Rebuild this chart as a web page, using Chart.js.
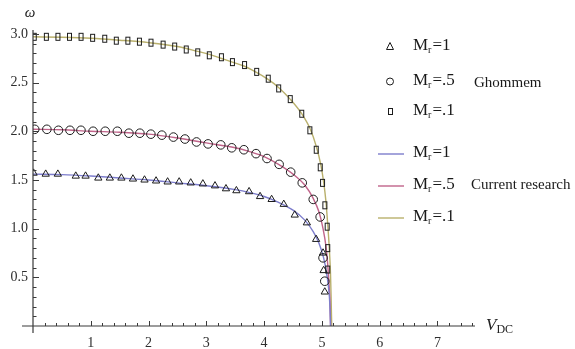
<!DOCTYPE html>
<html lang="en">
<head>
  <meta charset="UTF-8" />
  <title>Frequency vs V_DC</title>
  <script src="https://cdn.jsdelivr.net/npm/chart.js"></script>
  <style>
    * { margin: 0; padding: 0; box-sizing: border-box; }
    body { background: #fff; width: 575px; height: 349px; overflow: hidden; }
    #wrap { position: relative; width: 575px; height: 349px; }
  </style>
</head>
<body>
<div id="wrap"><canvas id="chart" width="575" height="349"></canvas></div>

<script>
  // Ghommem (markers)
  const vTri = [0.01, 0.22, 0.43, 0.74, 0.91, 1.13, 1.33, 1.53, 1.73, 1.93, 2.13, 2.33, 2.53, 2.73, 2.94, 3.15, 3.34, 3.52, 3.74, 3.93, 4.13, 4.34, 4.53, 4.74, 4.90, 5.02, 5.03, 5.05];
  const wTri = [1.57, 1.56, 1.56, 1.54, 1.54, 1.52, 1.52, 1.52, 1.51, 1.50, 1.49, 1.48, 1.48, 1.47, 1.46, 1.44, 1.41, 1.39, 1.38, 1.33, 1.30, 1.25, 1.14, 1.06, 0.89, 0.75, 0.57, 0.35];

  const vCirc = [0.03, 0.24, 0.44, 0.64, 0.83, 1.04, 1.25, 1.46, 1.66, 1.85, 2.04, 2.23, 2.43, 2.63, 2.83, 3.03, 3.25, 3.44, 3.65, 3.86, 4.05, 4.26, 4.46, 4.66, 4.85, 4.97, 5.02, 5.05];
  const wCirc = [2.02, 2.02, 2.01, 2.01, 2.01, 2.00, 2.00, 2.00, 1.98, 1.98, 1.97, 1.96, 1.94, 1.92, 1.89, 1.87, 1.86, 1.83, 1.81, 1.77, 1.72, 1.66, 1.58, 1.47, 1.30, 1.12, 0.70, 0.46];

  const vSq = [0.03, 0.24, 0.44, 0.64, 0.84, 1.04, 1.25, 1.45, 1.65, 1.85, 2.05, 2.26, 2.46, 2.66, 2.86, 3.06, 3.27, 3.46, 3.67, 3.88, 4.08, 4.26, 4.46, 4.66, 4.80, 4.91, 4.98, 5.02, 5.06, 5.10, 5.11, 5.11];
  const wSq = [2.97, 2.97, 2.97, 2.97, 2.97, 2.96, 2.95, 2.93, 2.93, 2.92, 2.91, 2.89, 2.87, 2.84, 2.81, 2.78, 2.76, 2.71, 2.68, 2.61, 2.54, 2.44, 2.33, 2.18, 2.01, 1.81, 1.63, 1.47, 1.24, 1.02, 0.80, 0.58];

  // Current research (lines)
  const vLine1 = [0, 0.5, 1, 1.5, 2, 2.5, 3, 3.5, 3.75, 4, 4.25, 4.5, 4.7, 4.85, 4.95, 5.03, 5.08, 5.11, 5.13, 5.14, 5.15];
  const wLine1 = [1.56, 1.555, 1.54, 1.52, 1.50, 1.47, 1.44, 1.40, 1.37, 1.33, 1.27, 1.19, 1.09, 0.97, 0.85, 0.70, 0.55, 0.42, 0.30, 0.18, 0];

  const vLine5 = [0, 0.5, 1, 1.5, 2, 2.5, 3, 3.5, 3.75, 4, 4.25, 4.5, 4.7, 4.85, 4.95, 5.02, 5.07, 5.10, 5.12, 5.14, 5.15];
  const wLine5 = [2.02, 2.015, 2.00, 1.99, 1.97, 1.93, 1.88, 1.83, 1.79, 1.74, 1.66, 1.56, 1.45, 1.31, 1.17, 1.00, 0.82, 0.64, 0.46, 0.25, 0];

  const vLine01 = [0, 0.5, 1, 1.5, 2, 2.5, 2.85, 3.05, 3.25, 3.45, 3.65, 3.85, 4.05, 4.25, 4.45, 4.65, 4.8, 4.9, 4.98, 5.03, 5.07, 5.1, 5.13, 5.15, 5.16, 5.17];
  const wLine01 = [2.97, 2.965, 2.955, 2.935, 2.91, 2.87, 2.82, 2.79, 2.75, 2.71, 2.67, 2.61, 2.54, 2.45, 2.33, 2.18, 2.02, 1.85, 1.66, 1.48, 1.28, 1.05, 0.78, 0.52, 0.28, 0];

  const seriesLabels = ['Mr=1', 'Mr=.5', 'Mr=.1'];
  const lineColors = ['#7d7dcc', '#c0648a', '#b9b06c'];
  const markColor = '#1c1c1c';
  const serif = '"Liberation Serif", "DejaVu Serif", serif';

  function pts(xs, ys) { return xs.map((x, i) => ({ x: x, y: ys[i] })); }

  // tall thin rectangle marker like the reference
  const rectMark = document.createElement('canvas');
  rectMark.width = 8; rectMark.height = 10;
  (function () {
    const c = rectMark.getContext('2d');
    c.strokeStyle = markColor; c.lineWidth = 1;
    c.strokeRect(1.5, 1.5, 4, 7);
  })();

  function lineSet(label, xs, ys, color) {
    return { label, data: pts(xs, ys), showLine: true, borderColor: color, borderWidth: 1.4,
      pointRadius: 0, cubicInterpolationMode: 'monotone', order: 2 };
  }
  function markSet(label, xs, ys, style, r) {
    return { label, data: pts(xs, ys), showLine: false, pointStyle: style, pointRadius: r,
      borderColor: markColor, borderWidth: 1, backgroundColor: 'rgba(0,0,0,0)', order: 1 };
  }

  function drawMr(ctx, x, y, rest, size) {
    ctx.textBaseline = 'middle';
    ctx.textAlign = 'left';
    ctx.font = size + 'px ' + serif;
    ctx.fillText('M', x, y);
    x += ctx.measureText('M').width;
    ctx.font = Math.round(size * 0.6) + 'px ' + serif;
    ctx.fillText('r', x, y + size * 0.28);
    x += ctx.measureText('r').width + 1;
    ctx.font = size + 'px ' + serif;
    ctx.fillText(rest, x, y);
  }

  const axesPlugin = {
    id: 'mmaAxes',
    afterDraw(chart) {
      const ctx = chart.ctx;
      const xs = chart.scales.x, ys = chart.scales.y;
      const x0 = xs.getPixelForValue(0), y0 = ys.getPixelForValue(0);
      ctx.save();
      ctx.strokeStyle = '#3a3a3a';
      ctx.lineWidth = 1.2;
      ctx.beginPath();
      ctx.moveTo(x0 - 11, y0); ctx.lineTo(xs.right, y0);
      ctx.moveTo(x0, y0 + 7); ctx.lineTo(x0, ys.top + 1);
      ctx.stroke();
      ctx.lineWidth = 1;
      ctx.beginPath();
      xs.ticks.forEach(t => {
        if (t.value <= 0) return;
        const p = Math.round(xs.getPixelForValue(t.value)) + 0.5;
        const major = Math.abs(t.value - Math.round(t.value)) < 1e-6;
        ctx.moveTo(p, y0); ctx.lineTo(p, y0 - (major ? 5 : 3));
      });
      ys.ticks.forEach(t => {
        if (t.value <= 0) return;
        const p = Math.round(ys.getPixelForValue(t.value)) + 0.5;
        const major = Math.abs(t.value * 2 - Math.round(t.value * 2)) < 1e-6;
        ctx.moveTo(x0, p); ctx.lineTo(x0 + (major ? 6 : 3.5), p);
      });
      ctx.stroke();

      // axis titles
      ctx.fillStyle = '#222';
      ctx.textBaseline = 'middle';
      ctx.textAlign = 'center';
      ctx.font = 'italic 15px ' + serif;
      ctx.fillText('\u03c9', x0 - 3, 13);
      ctx.textAlign = 'left';
      ctx.font = 'italic 17px ' + serif;
      ctx.fillText('V', xs.right + 11, y0);
      const vw = ctx.measureText('V').width;
      ctx.font = '12px ' + serif;
      ctx.fillText('DC', xs.right + 11 + vw, y0 + 4);

      // legend: Ghommem markers
      ctx.strokeStyle = markColor;
      ctx.lineWidth = 1;
      const lx = 390;
      ctx.beginPath();
      ctx.moveTo(lx, 42.5); ctx.lineTo(lx + 3.5, 49.5); ctx.lineTo(lx - 3.5, 49.5); ctx.closePath();
      ctx.stroke();
      ctx.beginPath();
      ctx.arc(lx, 81.5, 3.5, 0, Math.PI * 2);
      ctx.stroke();
      ctx.strokeRect(lx - 1.5, 108.5, 4, 6);
      ctx.fillStyle = '#1a1a1a';
      const rests = ['=1', '=.5', '=.1'];
      const gy = [46, 81, 111];
      gy.forEach((y, i) => drawMr(ctx, 413, y, rests[i], 17));
      ctx.font = '15px ' + serif;
      ctx.textBaseline = 'middle';
      ctx.fillText('Ghommem', 474, 83);

      // legend: current research lines
      const cy = [154, 186, 218];
      ctx.lineWidth = 1.4;
      cy.forEach((y, i) => {
        ctx.strokeStyle = lineColors[i];
        ctx.beginPath();
        ctx.moveTo(378, y); ctx.lineTo(404, y);
        ctx.stroke();
        drawMr(ctx, 413, y - 1, rests[i], 17);
      });
      ctx.font = '15px ' + serif;
      ctx.textBaseline = 'middle';
      ctx.fillText('Current research', 471, 185);
      ctx.restore();
    }
  };

  new Chart(document.getElementById('chart'), {
    type: 'scatter',
    data: {
      datasets: [
        lineSet(seriesLabels[0], vLine1, wLine1, lineColors[0]),
        lineSet(seriesLabels[1], vLine5, wLine5, lineColors[1]),
        lineSet(seriesLabels[2], vLine01, wLine01, lineColors[2]),
        markSet(seriesLabels[0], vTri, wTri, 'triangle', 4.2),
        markSet(seriesLabels[1], vCirc, wCirc, 'circle', 4.3),
        markSet(seriesLabels[2], vSq, wSq, rectMark, 4)
      ]
    },
    options: {
      responsive: false,
      animation: false,
      devicePixelRatio: 1,
      layout: { padding: { top: 29, right: 100, left: 0, bottom: 0 } },
      plugins: { legend: { display: false }, tooltip: { enabled: false } },
      scales: {
        x: {
          type: 'linear', min: 0, max: 7.65,
          grid: { display: false, drawTicks: false }, border: { display: false },
          afterFit: s => { s.height = 23; },
          ticks: {
            stepSize: 0.2, includeBounds: false, autoSkip: false, maxRotation: 0, padding: 9,
            color: '#2e2e2e', font: { family: serif, size: 14 },
            callback: v => (v > 0 && Math.abs(v - Math.round(v)) < 1e-6) ? String(Math.round(v)) : ''
          }
        },
        y: {
          type: 'linear', min: 0, max: 3.05,
          grid: { display: false, drawTicks: false }, border: { display: false },
          afterFit: s => { s.width = 33; },
          ticks: {
            stepSize: 0.1, includeBounds: false, autoSkip: false, padding: 5,
            color: '#2e2e2e', font: { family: serif, size: 14 },
            callback: v => (v > 0 && Math.abs(v * 2 - Math.round(v * 2)) < 1e-6) ? v.toFixed(1) : ''
          }
        }
      }
    },
    plugins: [axesPlugin]
  });
</script>
</body>
</html>
